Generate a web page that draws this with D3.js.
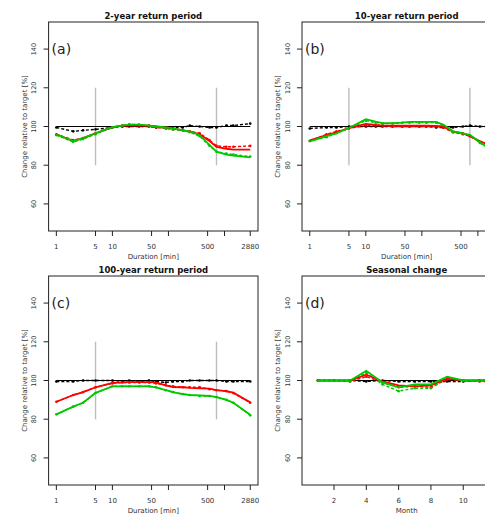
<!DOCTYPE html>
<html>
<head>
<meta charset="utf-8">
<script src="https://cdn.jsdelivr.net/npm/d3@7"></script>
<style>
  body { margin: 0; background: #fff; }
  svg { display: block; font-family: "DejaVu Sans", sans-serif; }
</style>
</head>
<body>
<svg id="chart" width="485" height="514"></svg>
<script>
// durations [min] and months
const durations = [1, 2, 3, 5, 10, 15, 20, 30, 45, 60, 90, 120, 180, 240, 360, 540, 720, 1080, 1440, 2880];
const months = [1, 2, 3, 4, 5, 6, 7, 8, 9, 10, 11, 12];

const yTicks = [60, 80, 100, 120, 140];
const durTicks = [1, 5, 10, 50, 100, 500, 1000, 2880];
const durTickLabels = ["1", "5", "10", "50", "", "500", "", "2880"];
const monthTicks = [2, 4, 6, 8, 10, 12];
const markerDurations = [5, 720];

const titles = ["2-year return period", "10-year return period", "100-year return period", "Seasonal change"];
const letters = ["(a)", "(b)", "(c)", "(d)"];

// (a) 2-year
const aRef = durations.map(() => 100);
const aBlack = [99.5, 97.5, 98, 98.5, 99.5, 100, 100, 100, 100, 99.5, 99.5, 99.5, 99.5, 100.5, 100, 99.5, 99.5, 100.5, 100.5, 101.5];
const aRed = [96, 92.5, 94, 96.5, 99.7, 100.5, 100.5, 100.5, 100.5, 100, 99.5, 99, 98, 97.5, 96, 92.5, 89.5, 88.5, 88, 88];
const aRedPts = [96, 93, 94, 96.5, 99.5, 100.5, 101, 100.5, 100.5, 99.5, 99, 98.5, 98, 97.5, 96.5, 93, 90, 89.5, 89.5, 90];
const aGreen = [96, 92.5, 94, 96.5, 99.7, 100.5, 101, 101, 100.5, 100, 99.5, 99, 98, 97.5, 95.5, 90.5, 87, 85.5, 85, 84];
const aGreenPts = [95.5, 92, 93.5, 96, 99.5, 100.5, 101, 101, 100.5, 100, 99, 98.5, 98, 97, 95, 90, 87, 86, 85.5, 84.5];

// (b) 10-year
const bRef = durations.map(() => 100);
const bBlack = [99, 99.5, 99.5, 100, 100, 100, 100, 100, 100, 100, 100, 100, 99.5, 99.5, 99.5, 100, 100.5, 100, 100, 100];
const bRed = [92.8, 95.5, 97, 99.2, 101.4, 100.8, 100.5, 100.4, 100.4, 100.4, 100.4, 100.4, 100.3, 100, 97.5, 96.5, 95, 92.5, 91, 87];
const bRedPts = [92.5, 96, 97.5, 99, 100.5, 100.5, 100.5, 100, 100, 100, 100, 100, 100, 99.5, 97, 96, 95, 92, 90.5, 87];
const bGreen = [92.3, 95, 96.5, 99.2, 103.8, 102.5, 101.7, 101.7, 102, 102.4, 102.4, 102.4, 102.4, 101, 97.5, 96.5, 95.7, 92, 89.5, 86];
const bGreenPts = [92.5, 94.5, 96.5, 99, 103, 102, 101.5, 101.5, 102, 102, 102, 102, 102, 100.5, 97, 96.5, 95.5, 91.5, 89.5, 86];

// (c) 100-year
const cRef = durations.map(() => 100);
const cBlack = [99.5, 99.5, 100, 100, 100, 99.5, 100, 99.5, 100, 99.5, 99, 99.5, 99.5, 100, 100, 100, 100, 99.5, 99.5, 99.5];
const cRed = [89, 92.5, 94, 96.5, 98.8, 99, 99.2, 99.2, 99.2, 99, 97.5, 96.6, 96.5, 96.2, 96, 95.8, 95, 94.5, 93.7, 88.7];
const cRedPts = [89, 92.5, 94, 96.5, 98.5, 99, 99, 99, 99, 98.5, 97.5, 97, 96.5, 96.5, 96.5, 95.5, 95, 94.5, 93.5, 88.5];
const cGreen = [82.5, 86.5, 88.5, 93.6, 97, 97, 97, 97, 97, 96.5, 95, 94, 93, 92.5, 92.3, 92, 91.4, 90, 88.5, 82.3];
const cGreenPts = [82.5, 86.5, 88.5, 93.5, 97, 97, 97, 97, 97, 96.5, 95, 94, 93, 92.5, 92, 92, 91.5, 90, 88.5, 82];

// (d) seasonal
const dRef = months.map(() => 100);
const dBlack = [100, 100, 100, 99.5, 100, 99.5, 99.5, 99.5, 99.5, 99.5, 100, 100];
const dRed = [100, 100, 100, 103, 99.5, 97.5, 97, 97.5, 101, 100, 100, 100];
const dRedPts = [100, 100, 99.5, 102, 99, 96.5, 97, 96.5, 100.5, 100, 99.5, 99.5];
const dGreen = [100, 100, 100, 105, 99, 96.5, 98, 98, 102, 100, 100, 100];
const dGreenPts = [100, 100, 99.5, 104, 98, 94.5, 96, 96, 101.5, 100, 100, 100];

const svg = d3.select("#chart");
const svgW = +svg.attr("width");

const panelW = 209.4, panelH = 209;
const panelPos = [[48.6, 22], [302, 22], [48.6, 276], [302, 276]];

const y = d3.scaleLinear().domain([46, 154]).range([panelH, 0]);
const logPad = Math.log10(2880) * 0.04;
const xDur = d3.scaleLog()
  .domain([Math.pow(10, -logPad), Math.pow(10, Math.log10(2880) + logPad)])
  .range([0, panelW]);
const xMonth = d3.scaleLinear().domain([0.02, 12.98]).range([0, panelW]);

const panels = [
  { xs: durations, ref: aRef, black: aBlack, red: aRed, redPts: aRedPts, green: aGreen, greenPts: aGreenPts, seasonal: false },
  { xs: durations, ref: bRef, black: bBlack, red: bRed, redPts: bRedPts, green: bGreen, greenPts: bGreenPts, seasonal: false },
  { xs: durations, ref: cRef, black: cBlack, red: cRed, redPts: cRedPts, green: cGreen, greenPts: cGreenPts, seasonal: false },
  { xs: months, ref: dRef, black: dBlack, red: dRed, redPts: dRedPts, green: dGreen, greenPts: dGreenPts, seasonal: true }
];

const RED = "#ff0000", GREEN = "#00c800";

panels.forEach((p, i) => {
  const x = p.seasonal ? xMonth : xDur;
  const left = panelPos[i][0];
  const g = svg.append("g")
    .attr("transform", "translate(" + left + "," + panelPos[i][1] + ")");

  g.append("clipPath").attr("id", "clip" + i)
    .append("rect").attr("width", panelW).attr("height", panelH);

  const plot = g.append("g").attr("clip-path", "url(#clip" + i + ")");

  // grey markers at 5 min and 12 h
  if (!p.seasonal) {
    plot.selectAll("line.mark")
      .data(markerDurations)
      .enter()
      .append("line")
      .attr("x1", d => x(d)).attr("x2", d => x(d))
      .attr("y1", y(80)).attr("y2", y(120))
      .attr("stroke", "#bdbdbd")
      .attr("stroke-width", 1.4);
  }

  const line = vals => d3.line()
    .x((d, k) => x(p.xs[k]))
    .y(d => y(d))(vals);

  const drawLine = (vals, color, width, dash) => {
    plot.append("path")
      .attr("d", line(vals))
      .attr("fill", "none")
      .attr("stroke", color)
      .attr("stroke-width", width)
      .attr("stroke-dasharray", dash || null);
  };

  const drawPts = (vals, color) => {
    plot.append("g")
      .selectAll("circle")
      .data(vals)
      .enter()
      .append("circle")
      .attr("cx", (d, k) => x(p.xs[k]))
      .attr("cy", d => y(d))
      .attr("r", 1.3)
      .attr("fill", color);
  };

  drawLine(p.ref, "#000", 1.1);
  drawLine(p.black, "#000", 1.4, "3,2");
  drawPts(p.black, "#000");
  drawLine(p.redPts, RED, 1.4, "3,2");
  drawPts(p.redPts, RED);
  drawLine(p.greenPts, GREEN, 1.4, "3,2");
  drawPts(p.greenPts, GREEN);
  drawLine(p.red, RED, 1.8);
  drawLine(p.green, GREEN, 1.8);

  // frame
  g.append("rect")
    .attr("width", panelW).attr("height", panelH)
    .attr("fill", "none")
    .attr("stroke", "#222")
    .attr("stroke-width", 1);

  // y axis
  const yAxis = g.append("g").attr("class", "yaxis");
  yAxis.selectAll("line")
    .data(yTicks)
    .enter()
    .append("line")
    .attr("x1", -5).attr("x2", 0)
    .attr("y1", d => y(d)).attr("y2", d => y(d))
    .attr("stroke", "#222");
  yAxis.selectAll("text")
    .data(yTicks)
    .enter()
    .append("text")
    .attr("transform", d => "translate(-12.5," + y(d) + ") rotate(-90)")
    .attr("text-anchor", "middle")
    .style("font-size", "6.5px")
    .style("fill", "#333")
    .text(d => d);
  g.append("text")
    .attr("transform", "translate(-22," + panelH / 2 + ") rotate(-90)")
    .attr("text-anchor", "middle")
    .style("font-size", "7px")
    .style("fill", "#333")
    .text("Change relative to target [%]");

  // x axis (labels outside the picture are not drawn, like the cropped reference)
  const ticks = p.seasonal ? monthTicks : durTicks;
  const tickLabels = p.seasonal ? monthTicks.map(String) : durTickLabels;
  const xAxis = g.append("g").attr("transform", "translate(0," + panelH + ")");
  xAxis.selectAll("line")
    .data(ticks)
    .enter()
    .append("line")
    .attr("x1", d => x(d)).attr("x2", d => x(d))
    .attr("y1", 0).attr("y2", 5)
    .attr("stroke", "#222");
  xAxis.selectAll("text")
    .data(ticks.filter(d => left + x(d) + 10 < svgW))
    .enter()
    .append("text")
    .attr("x", d => x(d))
    .attr("y", 18)
    .attr("text-anchor", "middle")
    .style("font-size", "7px")
    .style("fill", "#333")
    .text(d => tickLabels[ticks.indexOf(d)]);
  g.append("text")
    .attr("x", panelW / 2)
    .attr("y", panelH + 28)
    .attr("text-anchor", "middle")
    .style("font-size", "7px")
    .style("fill", "#333")
    .text(p.seasonal ? "Month" : "Duration [min]");

  // title and panel letter
  g.append("text")
    .attr("x", panelW / 2)
    .attr("y", -3)
    .attr("text-anchor", "middle")
    .style("font-size", "8.5px")
    .style("font-weight", "bold")
    .style("fill", "#111")
    .text(titles[i]);
  g.append("text")
    .attr("x", 3)
    .attr("y", y(140) + 5)
    .style("font-size", "14px")
    .style("fill", "#222")
    .text(letters[i]);
});
</script>
</body>
</html>
